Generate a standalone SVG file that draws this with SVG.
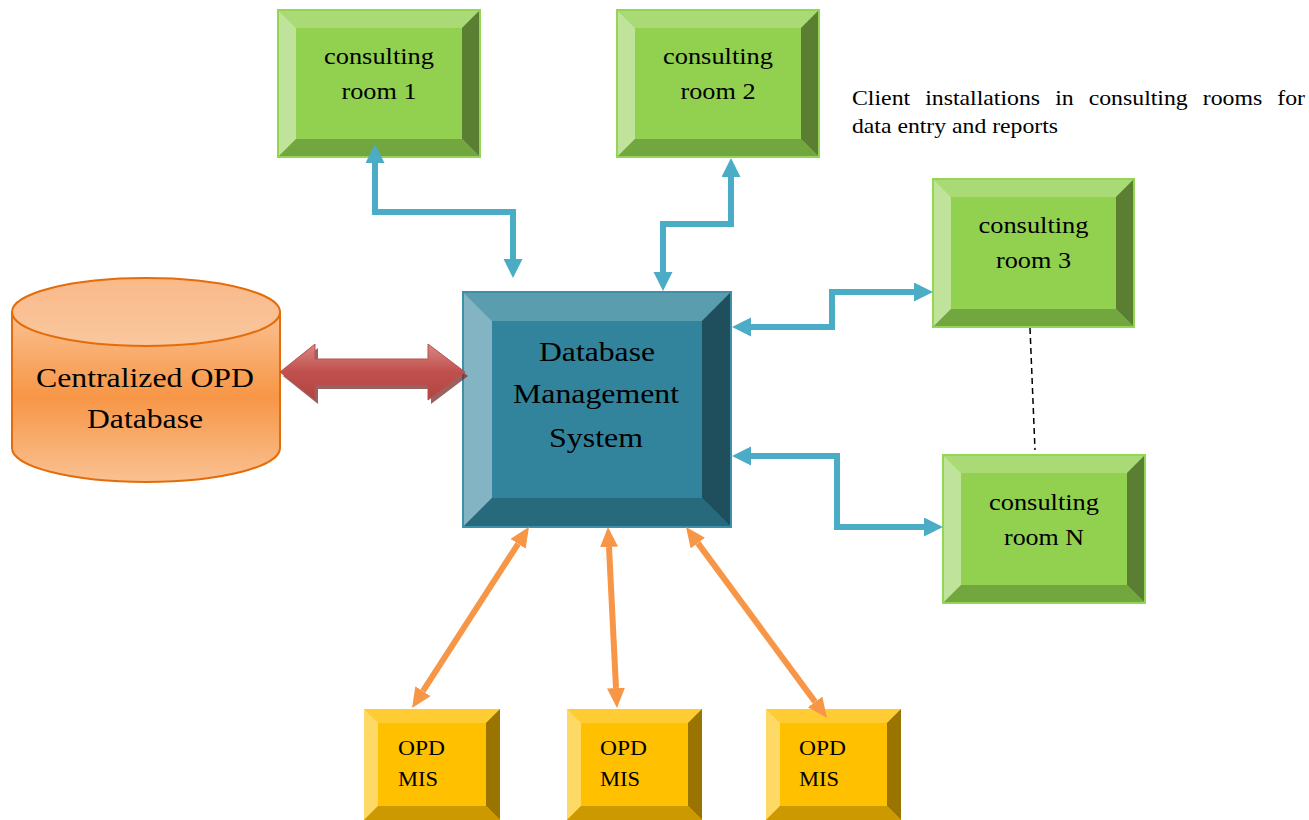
<svg xmlns="http://www.w3.org/2000/svg" width="1309" height="820" viewBox="0 0 1309 820">
<style>
  text { font-family: "Liberation Serif", "Times New Roman", serif; fill: #000; }
  .g-c { fill: #92D050; } .g-t { fill: #A9DA75; } .g-l { fill: #BFE39A; } .g-r { fill: #5A7F33; } .g-b { fill: #72A63E; }
  .g-o { fill: none; stroke: #93D653; stroke-width: 2; }
  .y-c { fill: #FFC000; } .y-t { fill: #FFCD33; } .y-l { fill: #FFD966; } .y-r { fill: #9A7400; } .y-b { fill: #CC9A00; }
  .d-c { fill: #31849B; } .d-t { fill: #5A9DAF; } .d-l { fill: #82B4C3; } .d-r { fill: #1F4F5D; } .d-b { fill: #276A7C; }
  .d-o { fill: none; stroke: #3D90A8; stroke-width: 2; }
  .blue { fill: none; stroke: #4BACC6; stroke-width: 6; marker-start: url(#bh); marker-end: url(#bh); }
  .orange { fill: none; stroke: #F79646; stroke-width: 6; marker-start: url(#oh); marker-end: url(#oh); }
  .room { font-size: 23px; }
  .opd { font-size: 22px; }
</style>
<defs>
  <marker id="bh" markerUnits="userSpaceOnUse" markerWidth="20" markerHeight="20" refX="0" refY="9.5" orient="auto-start-reverse">
    <path d="M0,0 L19,9.5 L0,19 Z" fill="#4BACC6"/>
  </marker>
  <marker id="oh" markerUnits="userSpaceOnUse" markerWidth="21" markerHeight="19" refX="0" refY="9" orient="auto-start-reverse">
    <path d="M0,0 L20,9 L0,18 Z" fill="#F79646"/>
  </marker>
  <linearGradient id="cylBody" x1="0" y1="312" x2="0" y2="482" gradientUnits="userSpaceOnUse">
    <stop offset="0" stop-color="#FAC192"/>
    <stop offset="0.5" stop-color="#F79646"/>
    <stop offset="1" stop-color="#FAC192"/>
  </linearGradient>
  <linearGradient id="cylTop" x1="0" y1="0" x2="0" y2="1">
    <stop offset="0" stop-color="#F9B98A"/>
    <stop offset="1" stop-color="#FAC79E"/>
  </linearGradient>
  <linearGradient id="redG" x1="0" y1="344" x2="0" y2="400" gradientUnits="userSpaceOnUse">
    <stop offset="0" stop-color="#D98683"/>
    <stop offset="0.5" stop-color="#C0504D"/>
    <stop offset="1" stop-color="#B04542"/>
  </linearGradient>
</defs>

<g id="cylinder">
  <path d="M12,312 L12,448 A134,34 0 0 0 280,448 L280,312 Z" fill="url(#cylBody)" stroke="#E46C0A" stroke-width="2"/>
  <ellipse cx="146" cy="312" rx="134" ry="34" fill="url(#cylTop)" stroke="#E46C0A" stroke-width="2"/>
  <text x="145" y="387" font-size="28" text-anchor="middle" textLength="218" lengthAdjust="spacingAndGlyphs">Centralized OPD</text>
  <text x="145" y="428" font-size="28" text-anchor="middle" textLength="116" lengthAdjust="spacingAndGlyphs">Database</text>
</g>

<g id="dbms">
  <rect x="463" y="292" width="268" height="235" class="d-c"/>
  <polygon points="463,292 731,292 702,321 492,321" class="d-t"/>
  <polygon points="463,292 492,321 492,498 463,527" class="d-l"/>
  <polygon points="731,292 731,527 702,498 702,321" class="d-r"/>
  <polygon points="463,527 731,527 702,498 492,498" class="d-b"/>
  <rect x="463" y="292" width="268" height="235" class="d-o"/>
  <text x="597" y="361" font-size="28" text-anchor="middle" textLength="116" lengthAdjust="spacingAndGlyphs">Database</text>
  <text x="596" y="403" font-size="28" text-anchor="middle" textLength="166" lengthAdjust="spacingAndGlyphs">Management</text>
  <text x="596" y="447" font-size="28" text-anchor="middle" textLength="94" lengthAdjust="spacingAndGlyphs">System</text>
</g>

<g id="room1" transform="translate(278,10)">
  <rect width="202" height="147" class="g-c"/>
  <polygon points="0,0 202,0 184,18 18,18" class="g-t"/>
  <polygon points="0,0 18,18 18,129 0,147" class="g-l"/>
  <polygon points="202,0 202,147 184,129 184,18" class="g-r"/>
  <polygon points="0,147 202,147 184,129 18,129" class="g-b"/>
  <rect width="202" height="147" class="g-o"/>
  <text x="101" y="54" class="room" text-anchor="middle" textLength="110" lengthAdjust="spacingAndGlyphs">consulting</text>
  <text x="101" y="89" class="room" text-anchor="middle" textLength="75" lengthAdjust="spacingAndGlyphs">room 1</text>
</g>

<g id="room2" transform="translate(617,10)">
  <rect width="202" height="147" class="g-c"/>
  <polygon points="0,0 202,0 184,18 18,18" class="g-t"/>
  <polygon points="0,0 18,18 18,129 0,147" class="g-l"/>
  <polygon points="202,0 202,147 184,129 184,18" class="g-r"/>
  <polygon points="0,147 202,147 184,129 18,129" class="g-b"/>
  <rect width="202" height="147" class="g-o"/>
  <text x="101" y="54" class="room" text-anchor="middle" textLength="110" lengthAdjust="spacingAndGlyphs">consulting</text>
  <text x="101" y="89" class="room" text-anchor="middle" textLength="75" lengthAdjust="spacingAndGlyphs">room 2</text>
</g>

<g id="room3" transform="translate(933,179)">
  <rect width="201" height="148" class="g-c"/>
  <polygon points="0,0 201,0 183,18 18,18" class="g-t"/>
  <polygon points="0,0 18,18 18,130 0,148" class="g-l"/>
  <polygon points="201,0 201,148 183,130 183,18" class="g-r"/>
  <polygon points="0,148 201,148 183,130 18,130" class="g-b"/>
  <rect width="201" height="148" class="g-o"/>
  <text x="100.5" y="54" class="room" text-anchor="middle" textLength="110" lengthAdjust="spacingAndGlyphs">consulting</text>
  <text x="100.5" y="89" class="room" text-anchor="middle" textLength="75" lengthAdjust="spacingAndGlyphs">room 3</text>
</g>

<g id="roomN" transform="translate(943,455)">
  <rect width="202" height="148" class="g-c"/>
  <polygon points="0,0 202,0 184,18 18,18" class="g-t"/>
  <polygon points="0,0 18,18 18,130 0,148" class="g-l"/>
  <polygon points="202,0 202,148 184,130 184,18" class="g-r"/>
  <polygon points="0,148 202,148 184,130 18,130" class="g-b"/>
  <rect width="202" height="148" class="g-o"/>
  <text x="101" y="55" class="room" text-anchor="middle" textLength="110" lengthAdjust="spacingAndGlyphs">consulting</text>
  <text x="101" y="90" class="room" text-anchor="middle" textLength="80" lengthAdjust="spacingAndGlyphs">room N</text>
</g>

<g id="opd1" transform="translate(364,709)">
  <rect width="136" height="111" class="y-c"/>
  <polygon points="0,0 136,0 122,14 14,14" class="y-t"/>
  <polygon points="0,0 14,14 14,97 0,111" class="y-l"/>
  <polygon points="136,0 136,111 122,97 122,14" class="y-r"/>
  <polygon points="0,111 136,111 122,97 14,97" class="y-b"/>
  <text x="34" y="46" class="opd" textLength="47" lengthAdjust="spacingAndGlyphs">OPD</text>
  <text x="34" y="77" class="opd" textLength="40" lengthAdjust="spacingAndGlyphs">MIS</text>
</g>

<g id="opd2" transform="translate(567,709)">
  <rect width="135" height="111" class="y-c"/>
  <polygon points="0,0 135,0 121,14 14,14" class="y-t"/>
  <polygon points="0,0 14,14 14,97 0,111" class="y-l"/>
  <polygon points="135,0 135,111 121,97 121,14" class="y-r"/>
  <polygon points="0,111 135,111 121,97 14,97" class="y-b"/>
  <text x="33" y="46" class="opd" textLength="47" lengthAdjust="spacingAndGlyphs">OPD</text>
  <text x="33" y="77" class="opd" textLength="40" lengthAdjust="spacingAndGlyphs">MIS</text>
</g>

<g id="opd3" transform="translate(766,709)">
  <rect width="135" height="111" class="y-c"/>
  <polygon points="0,0 135,0 121,14 14,14" class="y-t"/>
  <polygon points="0,0 14,14 14,97 0,111" class="y-l"/>
  <polygon points="135,0 135,111 121,97 121,14" class="y-r"/>
  <polygon points="0,111 135,111 121,97 14,97" class="y-b"/>
  <text x="33" y="46" class="opd" textLength="47" lengthAdjust="spacingAndGlyphs">OPD</text>
  <text x="33" y="77" class="opd" textLength="40" lengthAdjust="spacingAndGlyphs">MIS</text>
</g>

<g id="note">
  <text x="852" y="105" font-size="21" word-spacing="8" textLength="453" lengthAdjust="spacingAndGlyphs">Client installations in consulting rooms for</text>
  <text x="852" y="133" font-size="21" textLength="206" lengthAdjust="spacingAndGlyphs">data entry and reports</text>
</g>

<g id="connectors">
  <polygon points="283,376 318,348 318,363 431,363 431,348 468,376 431,404 431,389 318,389 318,404" fill="#7A2B29" opacity="0.75"/>
  <polygon points="280,372 315,344 315,359 428,359 428,344 465,372 428,400 428,385 315,385 315,400" fill="url(#redG)" stroke="#B9514E" stroke-width="1"/>
  <path d="M375,163 V212 H513 V259" class="blue"/>
  <path d="M663,272 V224 H731 V177" class="blue"/>
  <path d="M751,327 H832 V292 H914" class="blue"/>
  <path d="M751,456 H837 V527 H924" class="blue"/>
  <path d="M518.1,543.8 L422.9,691.2" class="orange"/>
  <path d="M609,547 L616,688" class="orange"/>
  <path d="M697.9,543.1 L815.1,701.9" class="orange"/>
  <path d="M1030,328 L1035,450" fill="none" stroke="#000" stroke-width="1.5" stroke-dasharray="6,4"/>
</g>
</svg>
